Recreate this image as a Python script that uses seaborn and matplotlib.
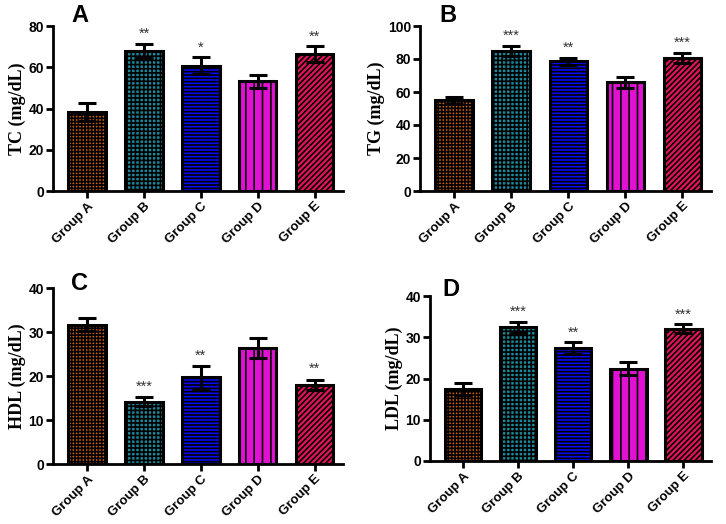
import matplotlib
matplotlib.use('Agg')
import matplotlib.pyplot as plt
import seaborn as sns
import numpy as np

groups = ['Group A', 'Group B', 'Group C', 'Group D', 'Group E']
colors = ['#D4620C', '#1B8A9C', '#0A0AF2', '#E011D2', '#E2125C']
hatches = ['+++++', '++++', '-----', '||', '//////']

tc_mean = [38.4, 67.8, 60.8, 53.2, 66.4]
tc_sem = [4.3, 3.5, 4.0, 3.2, 3.7]
tc_stars = ['', '**', '*', '', '**']

tg_mean = [55.0, 85.0, 78.6, 65.8, 80.6]
tg_sem = [2.2, 3.0, 2.0, 3.5, 3.1]
tg_stars = ['', '***', '**', '', '***']

hdl_mean = [31.7, 14.2, 19.7, 26.4, 18.0]
hdl_sem = [1.5, 1.0, 2.6, 2.3, 1.2]
hdl_stars = ['', '***', '**', '', '**']

ldl_mean = [17.4, 32.4, 27.4, 22.4, 32.1]
ldl_sem = [1.5, 1.4, 1.4, 1.5, 1.0]
ldl_stars = ['', '***', '**', '', '***']

sns.set_style('ticks')
plt.rcParams['hatch.linewidth'] = 1.2
for k in ['text.color', 'axes.labelcolor', 'xtick.color', 'ytick.color', 'axes.edgecolor']:
    plt.rcParams[k] = 'black'

fig = plt.figure(figsize=(7.26, 5.24), dpi=100)

W, H = 726.0, 524.0
def box(l, t, r, b):
    return [l / W, 1 - b / H, (r - l) / W, (b - t) / H]

panels = [
    ('A', 'TC (mg/dL)', tc_mean, tc_sem, tc_stars, 80, 20, box(53, 26, 343, 191), (80, 16)),
    ('B', 'TG (mg/dL)', tg_mean, tg_sem, tg_stars, 100, 20, box(420, 26, 711, 191), (448, 15)),
    ('C', 'HDL (mg/dL)', hdl_mean, hdl_sem, hdl_stars, 40, 10, box(53, 288, 343, 464), (80, 284)),
    ('D', 'LDL (mg/dL)', ldl_mean, ldl_sem, ldl_stars, 40, 10, box(430, 296, 711, 461), (451, 289)),
]

for letter, ylab, mean, sem, stars, ymax, step, rect, lpos in panels:
    ax = fig.add_axes(rect)
    sns.barplot(x=groups, y=mean, hue=groups, palette=colors, saturation=1, width=0.66,
                edgecolor='black', linewidth=2.2, legend=False, ax=ax, zorder=2)
    for p, h in zip(ax.patches, hatches):
        p.set_hatch(h)
    ax.errorbar(range(len(groups)), mean, yerr=sem, fmt='none', ecolor='black',
                elinewidth=2.2, capsize=6.5, capthick=2.2, zorder=3)
    for i, s in enumerate(stars):
        if s:
            ax.text(i, mean[i] + sem[i] + ymax * 0.06, s, ha='center', va='center',
                    fontsize=10.5, color='#333333', family='Liberation Sans', clip_on=False)
    ax.set_xlim(-0.6, 4.5)
    ax.set_ylim(0, ymax)
    ax.set_yticks(np.arange(0, ymax + 1, step))
    sns.despine(ax=ax)
    for sp in ['left', 'bottom']:
        ax.spines[sp].set_linewidth(2)
    ax.tick_params(axis='both', width=2, length=5, labelsize=10, pad=1.5)
    ax.set_xticks(range(len(groups)))
    ax.set_xticklabels(groups, rotation=45, ha='right', rotation_mode='anchor',
                       fontweight='bold', family='Liberation Sans', fontsize=9.5)
    for t in ax.get_yticklabels():
        t.set_fontweight('bold')
        t.set_family('Liberation Sans')
    ax.set_ylabel(ylab, fontsize=13, fontweight='bold', family='Liberation Serif', labelpad=2)
    fig.text(lpos[0] / W, 1 - lpos[1] / H, letter, fontsize=17, fontweight='bold',
             family='Liberation Sans', ha='center', va='center')

fig.savefig('out.png', dpi=100)
